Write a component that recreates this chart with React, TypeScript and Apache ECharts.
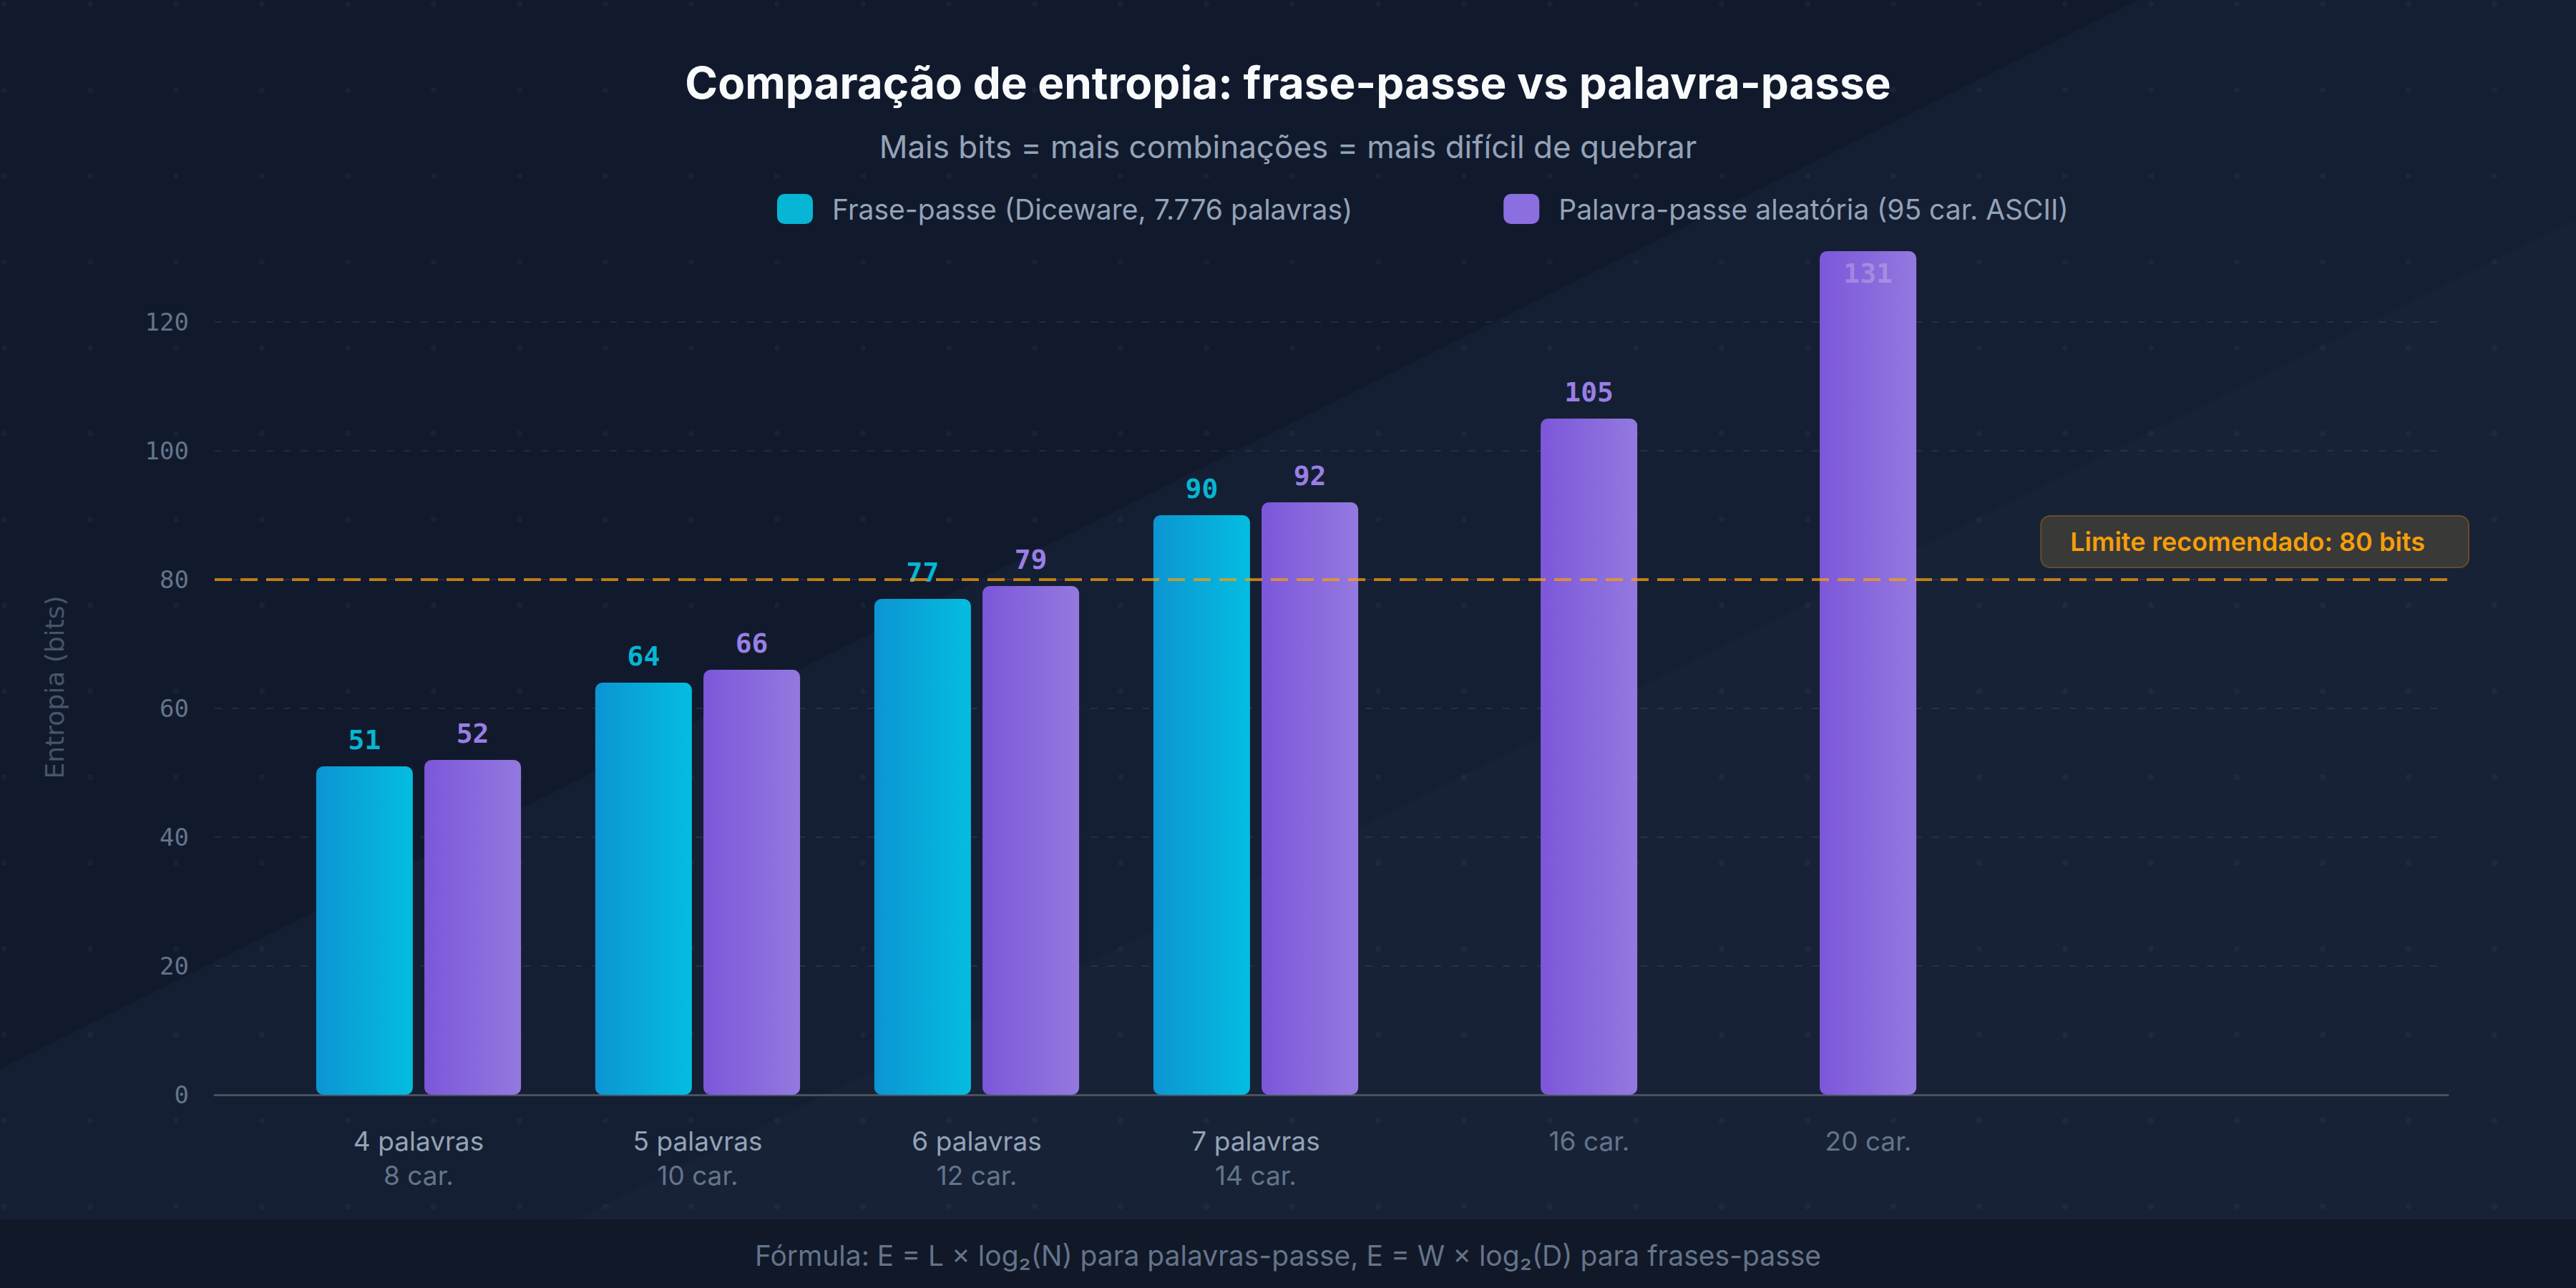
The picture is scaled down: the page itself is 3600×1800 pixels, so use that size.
import React, { useEffect, useRef } from 'react';
import * as echarts from 'echarts';

const wordLabels = ['4 palavras', '5 palavras', '6 palavras', '7 palavras', '', ''];
const charLabels = ['8 car.', '10 car.', '12 car.', '14 car.', '16 car.', '20 car.'];
const passphraseBits = [51, 64, 77, 90, null, null];
const passwordBits = [52, 66, 79, 92, 105, 131];
const thresholdBits = 80;
const yMax = 131;
const yInterval = 20;

const seriesNames = ['Frase-passe (Diceware, 7.776 palavras)', 'Palavra-passe aleatória (95 car. ASCII)'];
const titleText = 'Comparação de entropia: frase-passe vs palavra-passe';
const subtitleText = 'Mais bits = mais combinações = mais difícil de quebrar';
const footerText = 'Fórmula: E = L × log₂(N) para palavras-passe, E = W × log₂(D) para frases-passe';
const thresholdText = 'Limite recomendado: 80 bits';
const yName = 'Entropia (bits)';

const SANS = 'Inter, "Noto Sans", sans-serif';
const MONO = '"DejaVu Sans Mono", monospace';

export default function App() {
  const ref = useRef<HTMLDivElement>(null);
  useEffect(() => {
    document.body.style.margin = '0';
    if (!ref.current) return;
    const chart = echarts.init(ref.current, null, { renderer: 'svg' });
    const blue = new echarts.graphic.LinearGradient(0, 0, 1, 0, [
      { offset: 0, color: '#0c95d3' },
      { offset: 1, color: '#04bde0' },
    ]);
    const purple = new echarts.graphic.LinearGradient(0, 0, 1, 0, [
      { offset: 0, color: '#7c57da' },
      { offset: 1, color: '#9379df' },
    ]);
    const purpleData = passwordBits.map((v) =>
      v === yMax
        ? { value: v, label: { position: 'insideTop', distance: 12, color: 'rgba(205,200,230,0.38)' } }
        : v
    );
    chart.setOption({
      animation: false,
      title: [
        {
          text: titleText,
          subtext: subtitleText,
          left: 'center',
          top: 72,
          itemGap: 25,
          textStyle: { color: '#f8fafc', fontSize: 62, fontWeight: 700, fontFamily: SANS, lineHeight: 76 },
          subtextStyle: { color: '#94a3b8', fontSize: 44, fontFamily: SANS, lineHeight: 54 },
        },
        {
          text: footerText,
          left: 'center',
          top: 1727,
          textStyle: { color: '#64748b', fontSize: 39, fontWeight: 400, fontFamily: SANS, lineHeight: 44 },
        },
      ],
      graphic: [
        {
          type: 'rect',
          left: 0,
          bottom: 0,
          z: -10,
          shape: { width: 3600, height: 96 },
          style: { fill: '#111827' },
        },
      ],
      legend: {
        left: 1081,
        top: 266,
        itemWidth: 50,
        itemHeight: 42,
        itemGap: 211,
        icon: 'roundRect',
        data: [
          { name: seriesNames[0], itemStyle: { color: '#06b6d4' } },
          { name: seriesNames[1], itemStyle: { color: '#8b6fe0' } },
        ],
        textStyle: { color: '#94a3b8', fontSize: 39, fontFamily: SANS, padding: [0, 0, 0, 22] },
      },
      grid: [
        { left: 390, right: 870, top: 351, bottom: 270 },
        { left: 300, right: 179, top: 351, bottom: 270 },
      ],
      xAxis: [
        {
          type: 'category',
          gridIndex: 0,
          data: charLabels,
          axisLine: { show: false },
          axisTick: { show: false },
          axisLabel: {
            margin: 40,
            formatter: (v: string, i: number) =>
              wordLabels[i] ? `{a|${wordLabels[i]}}\n{b|${v}}` : `{c|${v}}`,
            rich: {
              a: { color: '#94a3b8', fontSize: 37, fontFamily: SANS, lineHeight: 48 },
              b: { color: '#64748b', fontSize: 37, fontFamily: SANS, lineHeight: 48 },
              c: { color: '#64748b', fontSize: 37, fontFamily: SANS, lineHeight: 48, padding: [0, 0, 0, 152] },
            },
          },
        },
        {
          type: 'value',
          gridIndex: 1,
          min: 0,
          max: 1,
          axisLine: { show: true, onZero: false, lineStyle: { color: '#4a505e', width: 3 } },
          axisTick: { show: false },
          axisLabel: { show: false },
          splitLine: { show: false },
        },
      ],
      yAxis: [
        { type: 'value', gridIndex: 0, min: 0, max: yMax, interval: yInterval, show: false },
        {
          type: 'value',
          gridIndex: 1,
          min: 0,
          max: yMax,
          interval: yInterval,
          name: yName,
          nameLocation: 'middle',
          nameGap: 206,
          nameTextStyle: {
            color: '#475569',
            fontSize: 36,
            fontFamily: '"DejaVu Sans", sans-serif',
            padding: [0, 40, 0, 0],
          },
          axisLine: { show: false },
          axisTick: { show: false },
          axisLabel: { color: '#64748b', fontSize: 34, fontFamily: MONO, margin: 36, showMaxLabel: false },
          splitLine: {
            show: true,
            showMinLine: false,
            showMaxLine: false,
            lineStyle: { color: 'rgba(148,163,184,0.13)', width: 2, type: [10, 14] },
          },
        },
      ],
      series: [
        {
          name: seriesNames[0],
          type: 'bar',
          xAxisIndex: 0,
          yAxisIndex: 0,
          data: passphraseBits,
          barWidth: 135,
          barGap: '12%',
          itemStyle: { color: blue, borderRadius: 10 },
          label: {
            show: true,
            position: 'top',
            distance: 18,
            color: '#06b6d4',
            fontFamily: MONO,
            fontWeight: 'bold',
            fontSize: 38,
          },
        },
        {
          name: seriesNames[1],
          type: 'bar',
          xAxisIndex: 0,
          yAxisIndex: 0,
          data: purpleData,
          barWidth: 135,
          barGap: '12%',
          itemStyle: { color: purple, borderRadius: 10 },
          label: {
            show: true,
            position: 'top',
            distance: 18,
            color: '#9a7ee6',
            fontFamily: MONO,
            fontWeight: 'bold',
            fontSize: 38,
          },
        },
        {
          type: 'line',
          xAxisIndex: 1,
          yAxisIndex: 1,
          data: [],
          markLine: {
            silent: true,
            symbol: ['none', 'none'],
            lineStyle: { color: 'rgba(245,158,11,0.75)', width: 4, type: [24, 12] },
            label: {
              show: true,
              position: 'insideEndTop',
              distance: [-28, 18],
              formatter: thresholdText,
              color: '#f59e0b',
              fontSize: 36,
              fontWeight: 600,
              fontFamily: SANS,
              backgroundColor: '#393938',
              borderColor: 'rgba(245,158,11,0.35)',
              borderWidth: 2,
              borderRadius: 12,
              padding: [17, 60, 17, 40],
            },
            data: [{ yAxis: thresholdBits }],
          },
        },
      ],
    });
    return () => chart.dispose();
  }, []);

  return (
    <div
      ref={ref}
      style={{
        width: 3600,
        height: 1800,
        background:
          'radial-gradient(circle at 60px 60px, rgba(148,163,184,0.06) 0px, rgba(148,163,184,0.06) 3.5px, transparent 4.5px) -54px -54px / 120px 120px, linear-gradient(to bottom right, #111a2d 0%, #111a2d 41.5%, #151f33 41.5%, #151f33 58.5%, #172236 58.5%, #172236 100%)',
      }}
    />
  );
}
